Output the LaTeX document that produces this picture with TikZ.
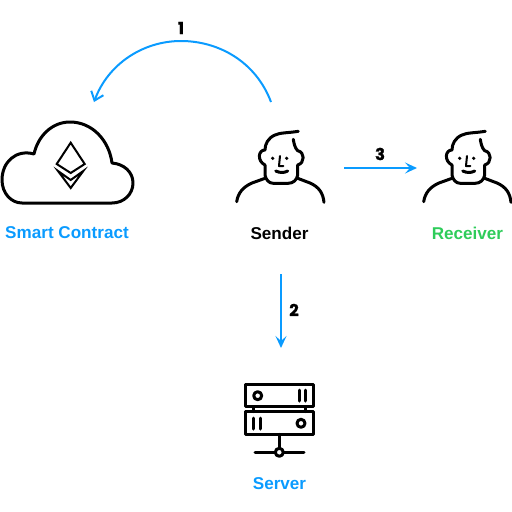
\documentclass[tikz,border=0pt]{standalone}
\usepackage{fontspec}
\setmainfont{Liberation Sans}
\newfontfamily\numfont[BoldFeatures={FakeBold=0.7}]{Poppins}
\usetikzlibrary{arrows.meta}
\definecolor{flowblue}{HTML}{0A9BFF}
\definecolor{recvgreen}{HTML}{2ECC5A}
\tikzset{
  x=1pt,y=-1pt,
  icon/.style={line width=3pt,line cap=round,line join=round,black},
  iconthin/.style={line width=2pt,line cap=round,line join=round,black},
  flow/.style={flowblue,line width=1.8pt,-{Stealth[length=12pt,width=11pt,inset=5pt]}},
  flowbig/.style={flowblue,line width=2pt,-{Straight Barb[length=8pt,width=13pt,line width=2pt]}},
  lbl/.style={font=\bfseries\fontsize{17.1}{19}\selectfont,inner sep=0pt,anchor=center},
  num/.style={font=\numfont\bfseries\fontsize{16.5}{18}\selectfont,inner sep=0pt,black},
  person/.pic={
    \draw[icon] (298.3,131.3) .. controls (288,133) and (280,132.5) .. (275,135)
      .. controls (268,138) and (265,144) .. (265,150)
      .. controls (258,150) and (257,161) .. (265,165)
      -- (265,175) .. controls (266,180) and (269,183.3) .. (273.3,183.3)
      -- (288.3,183.3) .. controls (293,183.3) and (297,180) .. (297.7,175)
      -- (297.7,165) .. controls (305,163) and (305,152) .. (297.7,150.7)
      .. controls (295,148) and (294,144) .. (293.3,139.3);
    \fill (272.7,158.3) circle (1.8);
    \fill (286.7,158.3) circle (1.8);
    \draw[iconthin] (280,156) -- (279,166) -- (283.3,166);
    \draw[icon] (275.7,171) .. controls (280,173) and (284,173) .. (287.7,171);
    \draw[icon] (265,178.3) -- (252,183) .. controls (243,187) and (238,193) .. (236.7,201.7);
    \draw[icon] (297.7,178.3) -- (310,183) .. controls (319,187) and (323,193) .. (324,202.3);
  }
}
\begin{document}
\begin{tikzpicture}
\useasboundingbox (0,0) rectangle (512,512);
% cloud
\draw[line width=3pt,line join=round,black]
  (22,203) -- (112,203)
  .. controls (124,203) and (133,194) .. (133,183)
  .. controls (133,172) and (124,164) .. (112,163)
  .. controls (109,140) and (92,122) .. (70,122)
  .. controls (52,122) and (38,136) .. (34,154)
  .. controls (16,149) and (2,162) .. (2,180)
  .. controls (2,193) and (11,203) .. (22,203) -- cycle;
% ether
\draw[iconthin,line join=miter] (70.7,142.7) -- (56.7,164) -- (70.7,173) -- (84.7,164) -- cycle;
\draw[iconthin,line join=miter] (58,171) -- (70.7,188) -- (83.3,171) -- (70.7,180) -- cycle;
% people
\pic at (0,0) {person};
\pic at (187,0) {person};
% server
\draw[icon] (245,384.3) rectangle (313.3,406.7);
\draw[icon] (245,411.7) rectangle (313.3,434.3);
\draw[icon] (253.3,406.7) -- (253.3,411.7);
\draw[icon] (305.3,406.7) -- (305.3,411.7);
\draw[icon] (257.7,395.7) circle (4);
\draw[icon] (299.3,390) -- (299.3,401);
\draw[icon] (305.3,390) -- (305.3,401);
\draw[icon] (253.3,418) -- (253.3,429);
\draw[icon] (260,418) -- (260,429);
\draw[icon] (301,423.3) circle (4);
\draw[icon] (279.3,434.3) -- (279.3,448);
\draw[icon] (255,452.3) -- (275,452.3);
\draw[icon] (283.5,452.3) -- (304,452.3);
\draw[icon] (279.3,452.3) circle (4);
% labels
\node[lbl,flowblue] (contract) at (67,233) {Smart Contract};
\node[lbl,black] (sender) at (279.5,233) {Sender};
\node[lbl,recvgreen] (receiver) at (467.5,233) {Receiver};
\node[lbl,flowblue] (server) at (279.5,484) {Server};
\node[num] (n1) at (181,28) {1};
\node[num] (n2) at (294,310) {2};
\node[num] (n3) at (380,154) {3};
% connector ends
\coordinate (a1s) at (271,102);
\coordinate (a1e) at (94,102);
\coordinate (a2s) at (281,274);
\coordinate (a2e) at (281,348);
\coordinate (a3s) at (344,168);
\coordinate (a3e) at (417,168);
\draw[flowbig] (a1s) .. controls (256,62) and (219,41) .. (181,41)
  .. controls (143,41) and (108,64) .. (a1e);
\draw[flow] (a2s) -- (a2e);
\draw[flow] (a3s) -- (a3e);
\end{tikzpicture}
\end{document}
